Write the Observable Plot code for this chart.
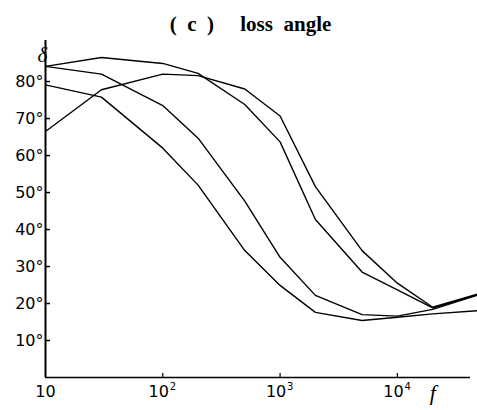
<!DOCTYPE html>
<html>
<head>
<meta charset="utf-8">
<script src="https://cdn.jsdelivr.net/npm/d3@7"></script>
<script src="https://cdn.jsdelivr.net/npm/@observablehq/plot@0.6"></script>
<style>
  html, body { margin: 0; padding: 0; background: #fff; }
</style>
</head>
<body>
<div id="chart"></div>
<script>
// Frequencies (Hz) at which each curve was read
const freqs = [10, 30, 100, 200, 500, 1000, 2000, 5000, 10000, 20000, 50000];
// Loss angle δ (degrees) for the four curves
const curveA = [79.1, 75.8, 62.0, 52.0, 34.3, 24.9, 17.6, 15.4, 16.3, 17.2, 18.1];
const curveB = [84.1, 82.0, 73.5, 64.7, 47.7, 32.5, 22.2, 17.0, 16.6, 18.4, 22.4];
const curveC = [66.5, 77.8, 82.0, 81.6, 78.0, 70.7, 51.6, 34.3, 25.5, 19.0, 22.7];
const curveD = [84.1, 86.5, 84.9, 82.2, 73.8, 63.7, 42.7, 28.5, 23.7, 18.8, 22.5];

const yTicks = [10, 20, 30, 40, 50, 60, 70, 80];
const yLabels = ["10°", "20°", "30°", "40°", "50°", "60°", "70°", "80°"];
const xTicks = [10, 100, 1000, 10000];
const xBase = ["10", "10", "10", "10"];
const xExp = ["", "2", "3", "4"];
const S = "\u00A0";
const title = "(" + S + S + "c" + S + S + ")" + S.repeat(5) + "loss" + S + S + "angle";

const series = [curveA, curveB, curveC, curveD];
const rows = series.flatMap((vals, k) => vals.map((v, i) => ({f: freqs[i], d: v, s: "c" + k})));

const xMin = 10, xMax = 48200, xAxisEnd = 42000;
const yMax = 91.1;
const sans = "DejaVu Sans, Arial, sans-serif";
const serif = "Liberation Serif, Times New Roman, serif";

const plot = Plot.plot({
  width: 477,
  height: 410,
  marginLeft: 45,
  marginRight: 0,
  marginTop: 40,
  marginBottom: 33,
  style: {background: "#fff", color: "#000"},
  x: {type: "log", domain: [xMin, xMax], axis: null},
  y: {domain: [0, yMax], axis: null},
  marks: [
    Plot.ruleX([xMin], {y1: 0, y2: yMax, stroke: "#000", strokeWidth: 2}),
    Plot.ruleY([0], {x1: xMin, x2: xAxisEnd, stroke: "#000", strokeWidth: 1.5}),
    Plot.ruleY(yTicks, {x1: xMin, x2: xMin * 1.103, stroke: "#000", strokeWidth: 1.5}),
    Plot.ruleX(xTicks.slice(1), {y1: 0, y2: 1.1, stroke: "#000", strokeWidth: 1.2}),
    Plot.text(yTicks, {
      x: d => xMin, y: d => d, text: (d, i) => yLabels[i],
      textAnchor: "end", dx: -2, fontSize: 16, fontFamily: sans, fill: "#000"
    }),
    // first x label (no exponent), centred on its tick
    Plot.text(xTicks, {
      filter: (d, i) => xExp[i] === "",
      x: d => d, y: d => 0, text: (d, i) => xBase[i],
      lineAnchor: "top", dy: 8, fontSize: 16, fontFamily: sans, fill: "#000"
    }),
    // power-of-ten labels: base shifted left, exponent raised to the right
    Plot.text(xTicks, {
      filter: (d, i) => xExp[i] !== "",
      x: d => d, y: d => 0, text: (d, i) => xBase[i],
      lineAnchor: "top", dy: 8, dx: -4, fontSize: 16, fontFamily: sans, fill: "#000"
    }),
    Plot.text(xTicks, {
      filter: (d, i) => xExp[i] !== "",
      x: d => d, y: d => 0, text: (d, i) => xExp[i],
      lineAnchor: "top", dy: 5, dx: 7, textAnchor: "start", fontSize: 10,
      fontFamily: sans, fill: "#000"
    }),
    Plot.line(rows, {x: "f", y: "d", z: "s", stroke: "#000", strokeWidth: 1.4, clip: true}),
    Plot.text(["δ"], {frameAnchor: "top-left", dx: -8, dy: 7, fontSize: 21,
      fontStyle: "italic", fontFamily: serif, fill: "#000"}),
    Plot.text(["f"], {x: d => 20000, y: d => 0, dy: 15, fontSize: 22,
      fontStyle: "italic", fontFamily: serif, fill: "#000"}),
    Plot.text([title], {frameAnchor: "top", dy: -24, dx: -11, fontSize: 21, fontWeight: "bold",
      fontFamily: serif, fill: "#000"})
  ]
});
document.getElementById("chart").appendChild(plot);
</script>
</body>
</html>
